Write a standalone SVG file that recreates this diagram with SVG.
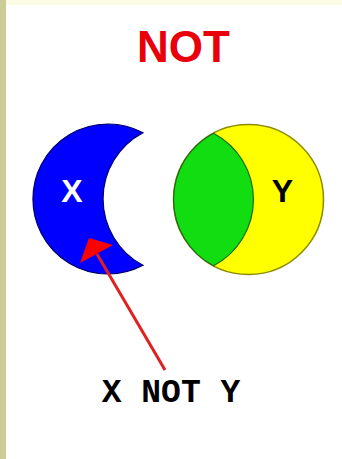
<svg xmlns="http://www.w3.org/2000/svg" width="342" height="459" viewBox="0 0 342 459">
<style>
.sans{font-family:"Liberation Sans",Arial,sans-serif;font-weight:bold}
.mono{font-family:"Liberation Mono","Courier New",monospace;font-weight:bold}
.arrow{stroke:#e02020;stroke-width:3}
.head{fill:#ff0000}
</style>
<rect x="0" y="0" width="342" height="459" fill="#ffffff"/>
<rect x="0" y="0" width="342" height="5" fill="#fcfce4"/>
<rect x="0" y="0" width="6" height="459" fill="#cccc99"/>
<g id="title">
<text class="sans" x="183.5" y="62" font-size="44" fill="#e8000b" text-anchor="middle">NOT</text>
</g>
<g id="nodeX">
<path d="M143,132.7 A75,75 0 1 0 143,265.3 A75,75 0 0 1 143,132.7 Z" fill="#0000ff" stroke="#000066" stroke-width="1.2"/>
<text class="sans" x="72" y="202" font-size="32" fill="#ffffff" text-anchor="middle">X</text>
</g>
<g id="nodeY">
<circle cx="248.5" cy="199.5" r="75" fill="#ffff00" stroke="#8c8c00" stroke-width="1.5"/>
<path d="M213.5,133.2 A75,75 0 0 0 213.5,265.8 A75,75 0 0 0 213.5,133.2 Z" fill="#11dd11" stroke="#1a6b1a" stroke-width="1.2"/>
<text class="sans" x="282.5" y="202" font-size="32" fill="#000000" text-anchor="middle">Y</text>
</g>
<g id="label">
<text class="mono" x="171" y="402" font-size="33" fill="#000000" text-anchor="middle">X NOT Y</text>
</g>
<g id="connectors">
<line class="arrow" x1="165" y1="370" x2="97" y2="254"/>
<polygon class="head" points="89,238 80,263 113,245"/>
</g>
</svg>
